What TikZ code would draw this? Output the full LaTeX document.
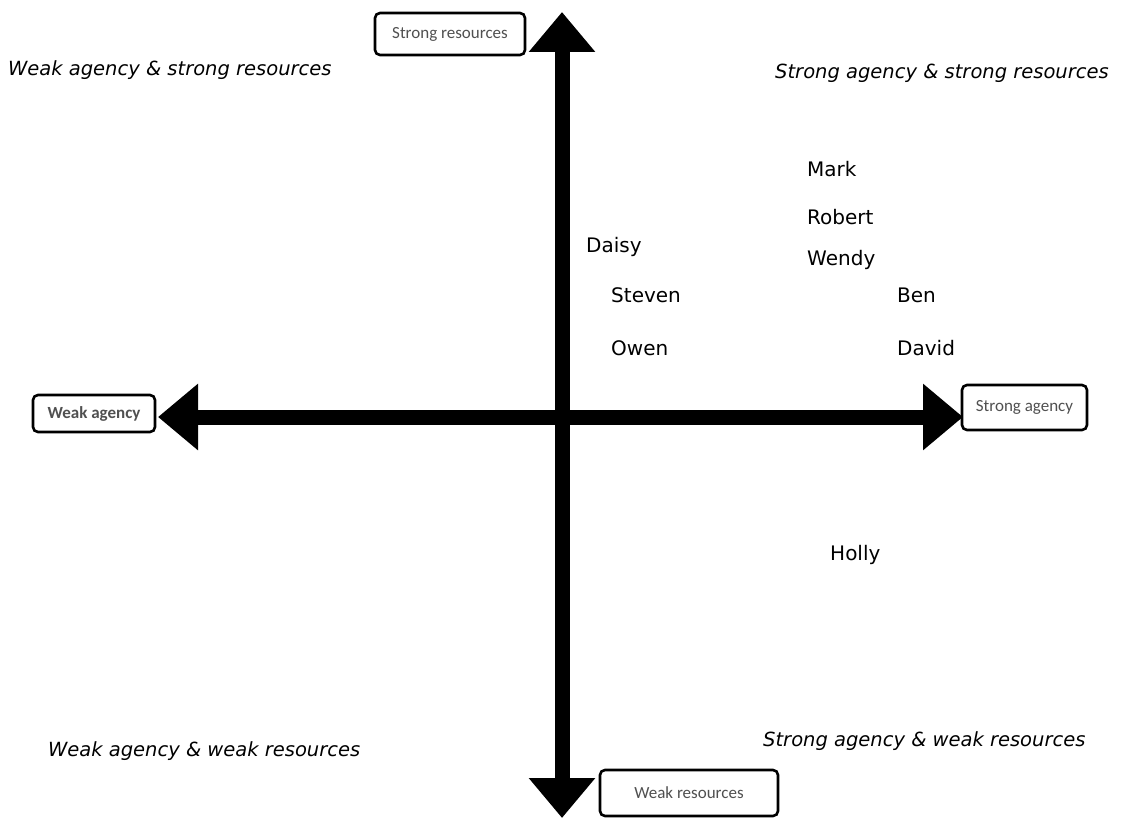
\documentclass[tikz,border=0pt]{standalone}
\usepackage{fontspec}
\usetikzlibrary{arrows.meta}
\newfontfamily\namefont{DejaVu Sans}
\newfontfamily\boxfont{Carlito}
\definecolor{boxtext}{HTML}{505050}
\tikzset{
  axis/.style={line width=15pt,
    {Triangle[length=40pt,width=64pt]}-{Triangle[length=40pt,width=64pt]}},
  polebox/.style={draw=black, line width=2.6pt, rounded corners=5pt, fill=white,
    inner sep=0pt, text=boxtext, font=\boxfont\fontsize{17}{20}\selectfont},
  quadlabel/.style={anchor=base west, inner sep=0pt,
    font=\namefont\itshape\fontsize{19.5}{23}\selectfont},
  person/.style={anchor=base west, inner sep=0pt,
    font=\namefont\fontsize{20}{24}\selectfont}
}
\begin{document}
\begin{tikzpicture}[x=1pt,y=-1pt]
\useasboundingbox (0,0) rectangle (1123,818);

% axis end points
\coordinate (west) at (158,417);
\coordinate (east) at (963,417);
\coordinate (north) at (562,12);
\coordinate (south) at (562,818);

\draw[axis] (west) -- (east);
\draw[axis] (south) -- (north);

% pole labels
\node[polebox, minimum width=150pt, minimum height=42pt] (strongres) at (450,34) {Strong resources};
\node[polebox, minimum width=122pt, minimum height=37pt, font=\boxfont\bfseries\fontsize{17}{20}\selectfont] (weakag) at (94,413.5) {Weak agency};
\node[polebox, minimum width=125pt, minimum height=45pt] (strongag) at (1024.5,407.5) {Strong agency};
\node[polebox, minimum width=178pt, minimum height=46pt] (weakres) at (689,793) {Weak resources};

% quadrant captions
\node[quadlabel] (q1) at (8,76) {Weak agency \& strong resources};
\node[quadlabel] (q2) at (775,79) {Strong agency \& strong resources};
\node[quadlabel] (q3) at (48,756) {Weak agency \& weak resources};
\node[quadlabel] (q4) at (763,746) {Strong agency \& weak resources};

% participants
\node[person] (mark) at (807,177) {Mark};
\node[person] (robert) at (807,225) {Robert};
\node[person] (wendy) at (807,265) {Wendy};
\node[person] (daisy) at (586,252) {Daisy};
\node[person] (steven) at (611,302) {Steven};
\node[person] (owen) at (611,355) {Owen};
\node[person] (ben) at (897,302) {Ben};
\node[person] (david) at (897,355) {David};
\node[person] (holly) at (830,560) {Holly};
\end{tikzpicture}
\end{document}
